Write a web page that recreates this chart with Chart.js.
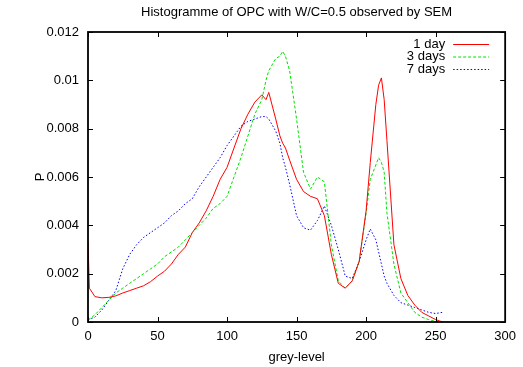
<!DOCTYPE html>
<html>
<head>
<meta charset="utf-8">
<script src="https://cdn.jsdelivr.net/npm/chart.js@4.4.0/dist/chart.umd.min.js"></script>
<style>
  html, body { margin: 0; padding: 0; background: #fff; }
  #wrap { width: 523px; height: 367px; }
</style>
</head>
<body>
<div id="wrap"><canvas id="histChart"></canvas></div>
<script>
// grey levels (finer near the peaks)
const greyLevels = [0, 1, 5, 10, 15, 20, 25, 30, 35, 40, 45, 50, 55, 60, 65, 70, 75, 80, 85, 90,
    95, 100, 105, 110, 115, 120, 125, 128, 130, 135, 138, 140, 142, 145, 150, 155, 160, 165, 170,
    175, 180, 185, 190, 195, 200, 203, 207, 209, 211, 213, 215, 220, 225, 230, 235, 240, 245, 250, 255];

const day1 = [0.0033, 0.0014, 0.00105, 0.0010, 0.00102, 0.00108, 0.0012, 0.0013, 0.0014, 0.0015,
    0.00167, 0.0019, 0.0021, 0.0024, 0.0028, 0.0031, 0.0037, 0.0041, 0.0046, 0.0052,
    0.0059, 0.0064, 0.0072, 0.0080, 0.0086, 0.0091, 0.0094, 0.0092, 0.0095, 0.0084, 0.0077, 0.0074, 0.0072, 0.0067, 0.0059, 0.0054, 0.0052, 0.0051, 0.0044,
    0.0028, 0.0016, 0.0014, 0.0017, 0.0025, 0.0046, 0.0066, 0.0090, 0.0098, 0.0101, 0.0092, 0.0075, 0.0032, 0.0018, 0.0011, 0.0007, 0.0004, 0.00025, 0.0001, 0.0000];

const day3 = [0.0001, 0.00012, 0.0003, 0.0006, 0.0009, 0.0012, 0.0014, 0.0016, 0.0018, 0.0020,
    0.0022, 0.0024, 0.0027, 0.0029, 0.0031, 0.0034, 0.0037, 0.0040, 0.0043, 0.0047,
    0.0049, 0.0052, 0.0060, 0.0068, 0.0077, 0.0086, 0.0092, 0.0100, 0.0104, 0.0109, 0.0110, 0.0112, 0.0110, 0.0104, 0.0084, 0.0062, 0.0055, 0.0060, 0.0058,
    0.0032, 0.0017, 0.0014, 0.0017, 0.0025, 0.0045, 0.0059, 0.0065, 0.0068, 0.0066, 0.0062, 0.0045, 0.0024, 0.0012, 0.0008, 0.0004, 0.0002, 0.0001, 0.00002, 0.0];

const day7 = [0.0001, 0.00012, 0.0002, 0.0005, 0.0009, 0.0013, 0.0022, 0.0028, 0.0032, 0.0035,
    0.0037, 0.0039, 0.0041, 0.0044, 0.0046, 0.0049, 0.0051, 0.0056, 0.0060, 0.0064,
    0.0068, 0.0073, 0.0077, 0.0081, 0.0083, 0.0084, 0.0085, 0.0085, 0.0084, 0.0079, 0.0074, 0.0068, 0.0064, 0.0057, 0.0044, 0.0039, 0.0038, 0.0042, 0.0048,
    0.0040, 0.0030, 0.0019, 0.0018, 0.0025, 0.0034, 0.00385, 0.0034, 0.0029, 0.0024, 0.0019, 0.0016, 0.0011, 0.0008, 0.0007, 0.0006, 0.0005, 0.0004, 0.00035, 0.0004];

const seriesLabels = ["1 day", "3 days", "7 days"];

const FONT = '"Liberation Sans", Arial, sans-serif';

function points(vals) {
    return greyLevels.map((g, i) => ({ x: g, y: vals[i] }));
}

// gnuplot-like key: text right aligned, sample line on the right
const keyPlugin = {
    id: "keyPlugin",
    afterDraw(chart) {
        const ctx = chart.ctx;
        const a = chart.chartArea;
        ctx.save();
        ctx.font = "13px " + FONT;
        ctx.textAlign = "right";
        ctx.textBaseline = "middle";
        chart.data.datasets.forEach((ds, i) => {
            const y = a.top + 12 + i * 12.5;
            ctx.fillStyle = "#000";
            ctx.fillText(ds.label, a.right - 60, y);
            ctx.strokeStyle = ds.borderColor;
            ctx.lineWidth = 1;
            ctx.setLineDash(ds.borderDash || []);
            ctx.beginPath();
            ctx.moveTo(a.right - 52, y + 0.5);
            ctx.lineTo(a.right - 16, y + 0.5);
            ctx.stroke();
        });
        ctx.restore();
    }
};

// box around the plot with inward tick marks on all four sides
const framePlugin = {
    id: "framePlugin",
    afterDatasetsDraw(chart) {
        const { ctx, chartArea: a, scales: { x, y } } = chart;
        ctx.save();
        ctx.strokeStyle = "#000";
        ctx.setLineDash([]);
        ctx.lineWidth = 1;
        ctx.beginPath();
        x.ticks.forEach(t => {
            const px = Math.round(x.getPixelForValue(t.value)) + 0.5;
            ctx.moveTo(px, a.bottom); ctx.lineTo(px, a.bottom - 5);
            ctx.moveTo(px, a.top); ctx.lineTo(px, a.top + 5);
        });
        y.ticks.forEach(t => {
            const py = Math.round(y.getPixelForValue(t.value)) + 0.5;
            ctx.moveTo(a.left, py); ctx.lineTo(a.left + 5, py);
            ctx.moveTo(a.right, py); ctx.lineTo(a.right - 5, py);
        });
        ctx.stroke();
        ctx.lineWidth = 1.8;
        ctx.strokeRect(a.left, a.top, a.right - a.left, a.bottom - a.top);
        ctx.restore();
    }
};

function initChart() {
    const ctx = document.getElementById("histChart");

    new Chart(ctx, {
        type: "line",
        data: {
            datasets: [{
                label: seriesLabels[0],
                data: points(day1),
                borderColor: "#ff0000",
                borderWidth: 1
            }, {
                label: seriesLabels[1],
                data: points(day3),
                borderColor: "#00e000",
                borderWidth: 1,
                borderDash: [3, 2]
            }, {
                label: seriesLabels[2],
                data: points(day7),
                borderColor: "#0000ff",
                borderWidth: 1,
                borderDash: [1.5, 2]
            }]
        },
        options: {
            responsive: true,
            maintainAspectRatio: false,
            animation: false,
            elements: { point: { radius: 0 }, line: { tension: 0 } },
            layout: { padding: { right: 13, left: 0, top: 0, bottom: 0 } },
            plugins: {
                legend: { display: false },
                tooltip: { enabled: false },
                title: {
                    display: true,
                    fullSize: false,
                    text: "Histogramme of OPC with W/C=0.5 observed by SEM",
                    color: "#000",
                    font: { family: FONT, size: 13, weight: "normal" },
                    padding: { top: 5, bottom: 11.4 }
                }
            },
            scales: {
                x: {
                    type: "linear",
                    min: 0,
                    max: 300,
                    grid: { display: false, drawTicks: false },
                    border: { display: false },
                    ticks: { stepSize: 50, color: "#000", padding: 7, font: { family: FONT, size: 13 } },
                    title: { display: true, text: "grey-level", color: "#000", font: { family: FONT, size: 13 }, padding: { top: 0, bottom: 2 } },
                    afterFit: s => { s.height = 45; }
                },
                y: {
                    min: 0,
                    max: 0.012,
                    grid: { display: false, drawTicks: false },
                    border: { display: false },
                    ticks: {
                        stepSize: 0.002,
                        color: "#000",
                        padding: 9,
                        font: { family: FONT, size: 13 },
                        callback: v => String(+v.toFixed(3))
                    },
                    title: { display: true, text: "P", color: "#000", font: { family: FONT, size: 13 }, padding: { top: 33, bottom: 0 } },
                    afterFit: s => { s.width = 88; }
                }
            }
        },
        plugins: [keyPlugin, framePlugin]
    });
}

window.addEventListener("load", initChart);
</script>
</body>
</html>
